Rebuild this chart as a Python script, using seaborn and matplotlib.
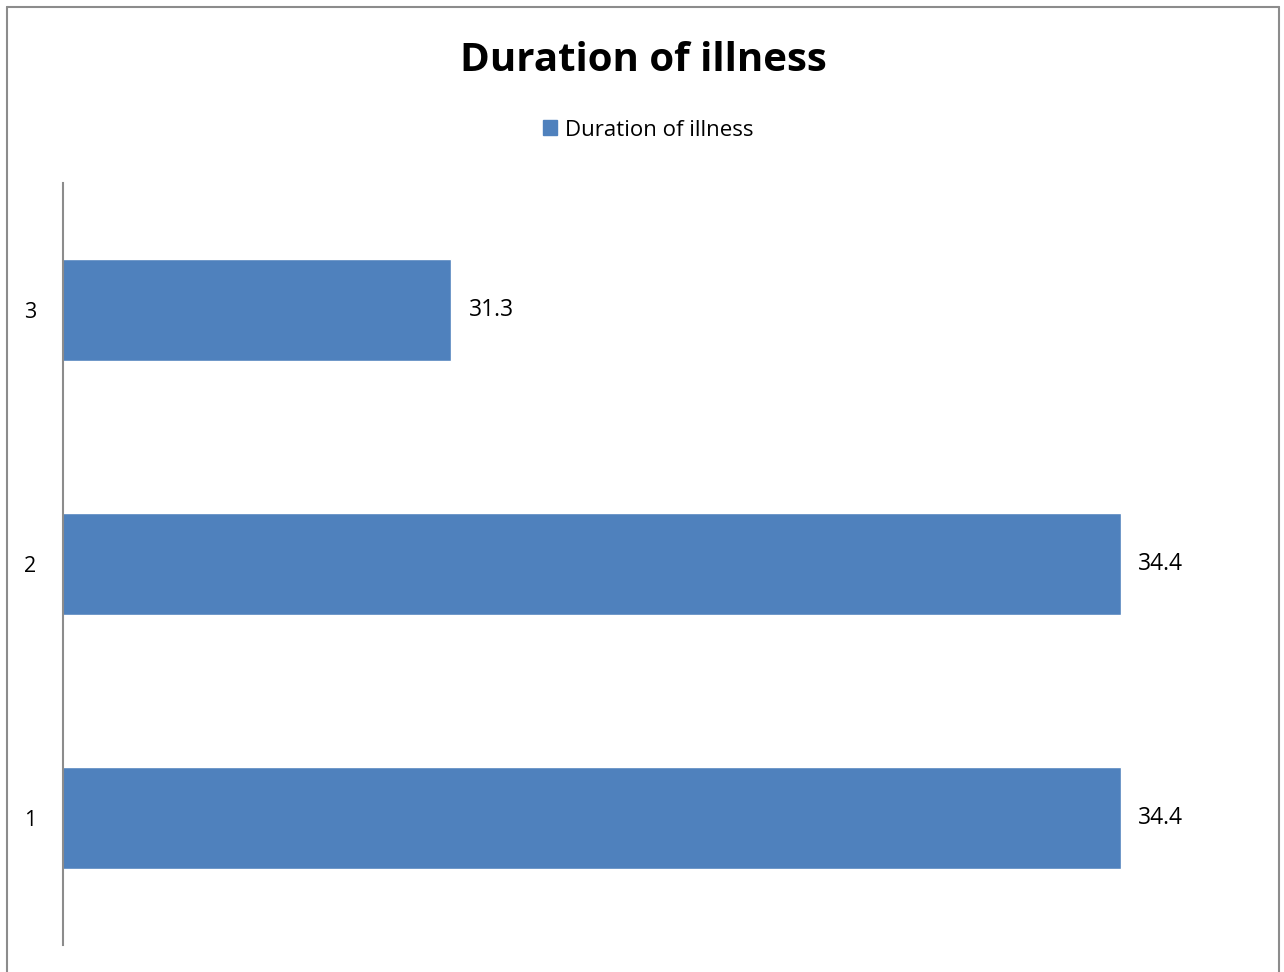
import matplotlib
matplotlib.use("Agg")
import matplotlib.pyplot as plt
from matplotlib.lines import Line2D
from matplotlib.patches import Rectangle
import seaborn as sns
import pandas as pd

# Chart data
categories = ["1", "2", "3"]
durations = [34.4, 34.4, 31.3]
series_name = "Duration of illness"
title_text = "Duration of illness"

sns.set_theme(style="white")
plt.rcParams["font.family"] = ["Open Sans", "DejaVu Sans"]
plt.rcParams["text.color"] = "black"

bar_color = "#4F81BD"
W, H = 1284, 972
fig = plt.figure(figsize=(W / 100, H / 100), dpi=100)
fig.patch.set_facecolor("white")

# Plot area placed in pixel terms
left, right, top, bottom = 63, 1250, 183, 945
ax = fig.add_axes([left / W, 1 - bottom / H, (right - left) / W, (bottom - top) / H])

df = pd.DataFrame({"category": categories, "value": durations})
order = categories[::-1]  # category "1" at the bottom
sns.barplot(data=df, y="category", x="value", order=order, orient="h",
            color=bar_color, saturation=1, width=0.4, ax=ax)

ax.set_xlim(29.5, 35.0)
ax.set_ylim(2.5, -0.5)
ax.set_xlabel("")
ax.set_ylabel("")
ax.set_xticks([])
for side in ["top", "right", "bottom"]:
    ax.spines[side].set_visible(False)
ax.spines["left"].set_color("#8C8C8C")
ax.spines["left"].set_linewidth(1.5)
ax.tick_params(axis="y", length=0, pad=19, labelsize=15.5, colors="black")

# Value labels
for patch, val in zip(ax.patches, [durations[categories.index(c)] for c in order]):
    y = patch.get_y() + patch.get_height() / 2
    ax.annotate(f"{val:.1f}", xy=(patch.get_width() + patch.get_x(), y),
                xytext=(12.5, 0), textcoords="offset points", va="center",
                ha="left", fontsize=16.5, color="black")

# Title
fig.text(643 / W, 1 - 60 / H, title_text, ha="center", va="center",
         fontsize=29, fontweight="bold", color="black")

# Legend
leg = fig.legend(handles=[Rectangle((0, 0), 1, 1, color=bar_color)], labels=[series_name],
                 loc="center", bbox_to_anchor=(648 / W, 1 - 130 / H), frameon=False,
                 fontsize=16, handlelength=0.65, handleheight=0.65, handletextpad=0.35)
for t in leg.get_texts():
    t.set_color("black")

# Outer chart frame (left, top, right)
frame_color = "#8C8C8C"
fig.add_artist(Line2D([7 / W, 7 / W], [0, 1 - 7 / H], transform=fig.transFigure,
                      color=frame_color, lw=1.5))
fig.add_artist(Line2D([7 / W, 1279 / W], [1 - 7 / H, 1 - 7 / H], transform=fig.transFigure,
                      color=frame_color, lw=1.5))
fig.add_artist(Line2D([1279 / W, 1279 / W], [0, 1 - 7 / H], transform=fig.transFigure,
                      color=frame_color, lw=1.5))

fig.savefig("out.png", dpi=100, facecolor="white")
